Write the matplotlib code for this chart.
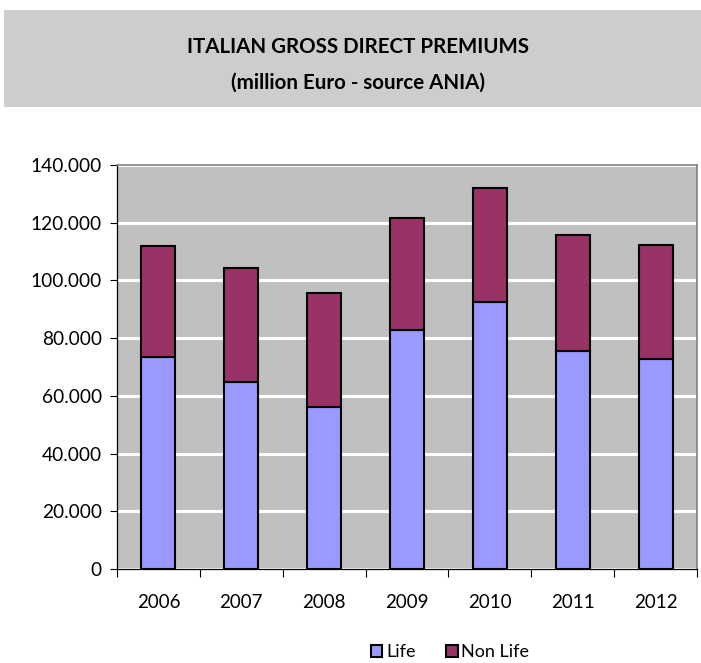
import matplotlib.pyplot as plt
from matplotlib.patches import Rectangle
from matplotlib.ticker import FuncFormatter, FixedLocator
import numpy as np

plt.rcParams['font.family'] = ['Lato', 'DejaVu Sans']

# data (million Euro)
years = ['2006', '2007', '2008', '2009', '2010', '2011', '2012']
life = [73300, 64800, 56100, 82800, 92400, 75700, 72600]
non_life = [38600, 39400, 39700, 38700, 39500, 40000, 39700]

fig = plt.figure(figsize=(7.01, 6.63), dpi=100)

# title box
fig.patches.append(Rectangle((4 / 701, 1 - 107 / 663), 697 / 701, 97 / 663,
                             transform=fig.transFigure, facecolor='#cdcdcd',
                             edgecolor='none', zorder=0))
fig.text(0.511, 1 - 47 / 663, 'ITALIAN GROSS DIRECT PREMIUMS', ha='center', va='center',
         fontsize=14.8, fontweight='bold')
fig.text(0.511, 1 - 83 / 663, '(million Euro - source ANIA)', ha='center', va='center',
         fontsize=14.8, fontweight='bold')

ax = fig.add_axes([117 / 701, 1 - 569 / 663, 580 / 701, 404 / 663])
ax.set_facecolor('#c0c0c0')

x = np.arange(len(years))
ax.bar(x, life, width=0.41, color='#9999ff', edgecolor='black', linewidth=1.5,
       label='Life', zorder=3)
ax.bar(x, non_life, width=0.41, bottom=life, color='#993366', edgecolor='black',
       linewidth=1.5, label='Non Life', zorder=3)

ax.set_xlim(-0.5, len(years) - 0.5)
ax.set_ylim(0, 140000)
ax.set_yticks(np.arange(0, 140001, 20000))
ax.yaxis.set_major_formatter(FuncFormatter(lambda v, p: '0' if v == 0 else f'{int(v):,}'.replace(',', '.')))
ax.grid(axis='y', color='white', linewidth=2.2, zorder=1)
ax.set_axisbelow(True)

ax.set_xticks(x)
ax.set_xticklabels(years)
ax.xaxis.set_minor_locator(FixedLocator(np.arange(-0.5, len(years), 1.0)))
ax.tick_params(axis='x', which='major', length=0, pad=18, labelsize=13.5)
ax.tick_params(axis='x', which='minor', length=6, color='black', width=0.8, direction='out')
ax.tick_params(axis='y', length=5, width=0.8, direction='out', labelsize=13.8, pad=6)

ax.spines['left'].set_color('black')
ax.spines['bottom'].set_color('black')
ax.spines['left'].set_linewidth(0.9)
ax.spines['bottom'].set_linewidth(0.9)
ax.spines['top'].set_color('#808080')
ax.spines['right'].set_color('#808080')
ax.spines['top'].set_linewidth(1.2)
ax.spines['right'].set_linewidth(1.2)

fig.legend(loc='center', bbox_to_anchor=(450 / 701, 1 - 652 / 663), ncol=2, frameon=False,
           fontsize=13, handlelength=0.65, handleheight=0.65, handletextpad=0.2,
           columnspacing=1.7)

plt.savefig('out.png', dpi=100)
